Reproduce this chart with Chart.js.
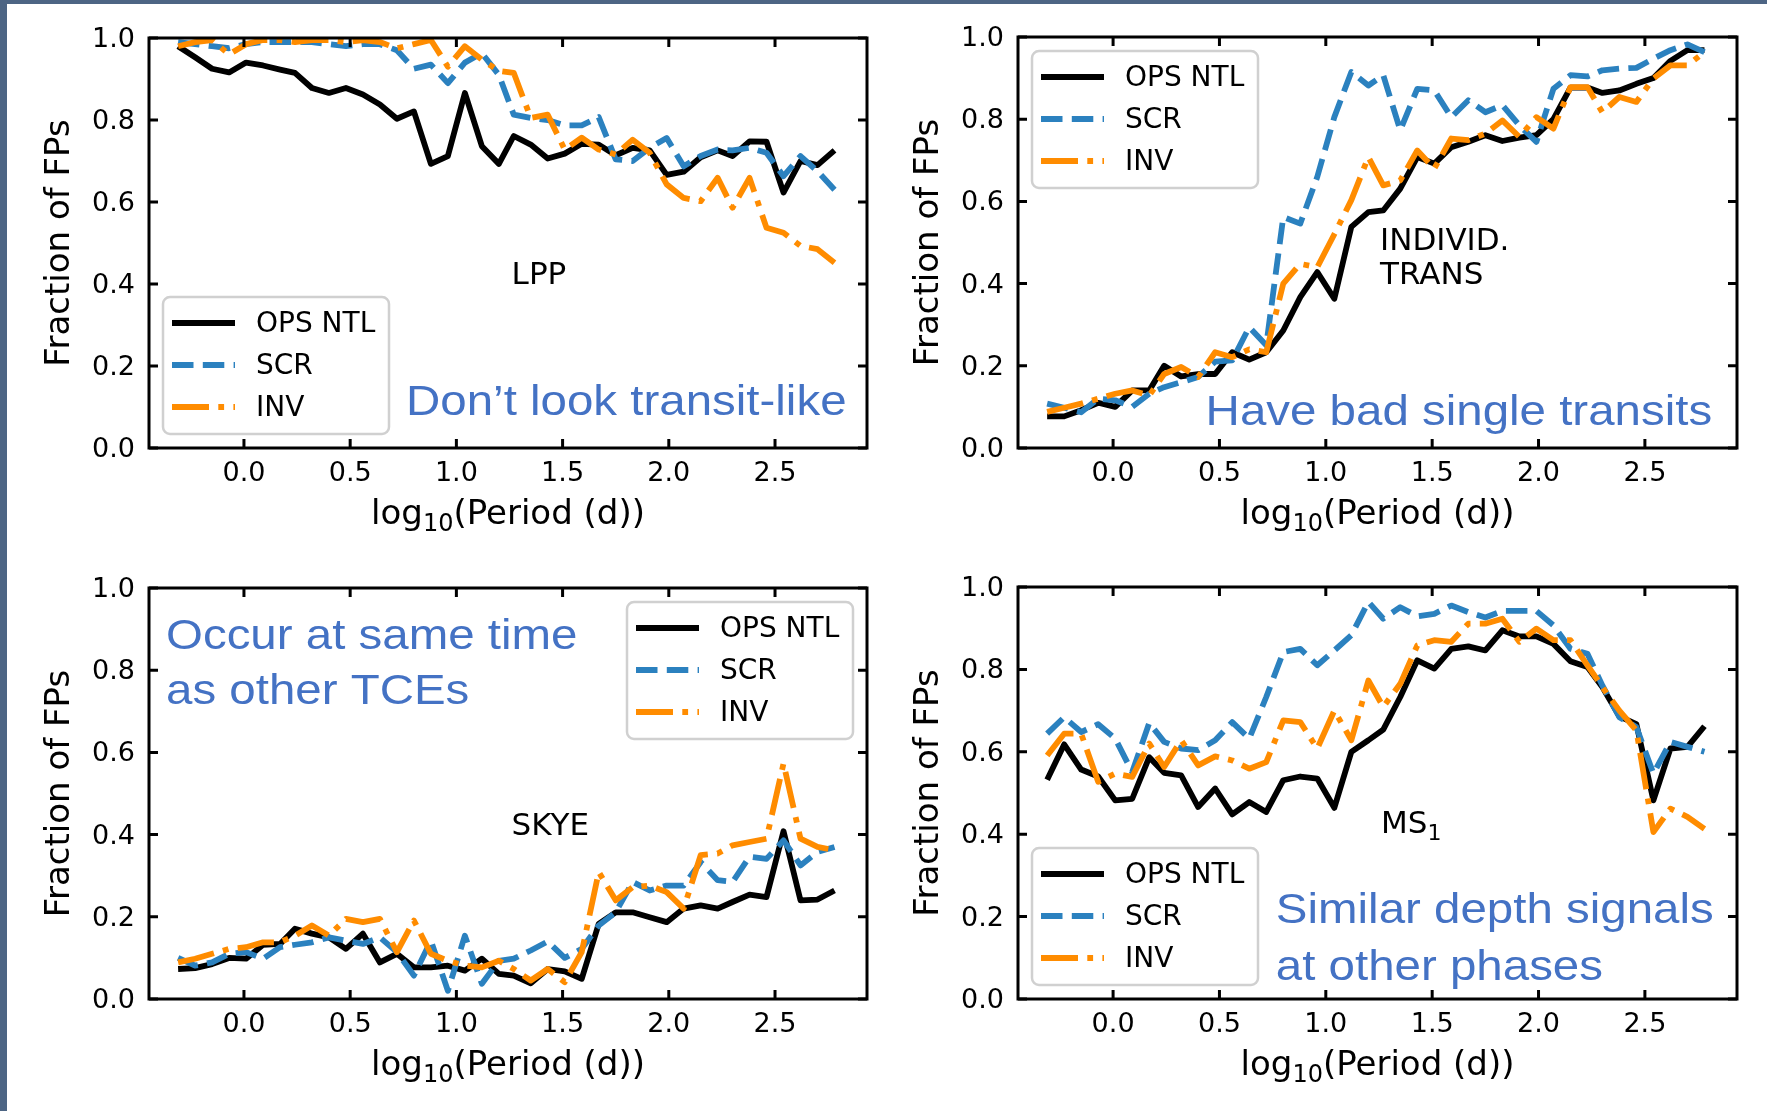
<!DOCTYPE html>
<html>
<head>
<meta charset="utf-8">
<script src="https://cdn.jsdelivr.net/npm/chart.js@4.4.0/dist/chart.umd.min.js"></script>
<style>
  html, body { margin: 0; padding: 0; background: #fff; }
  body { position: relative; width: 1767px; height: 1111px; overflow: hidden; }
  .panel { position: absolute; }
  .edge { position: absolute; background: #4d6584; z-index: 5; }
</style>
</head>
<body>
<div class="edge" style="left:0;top:0;width:7px;height:1111px"></div>
<div class="edge" style="left:0;top:0;width:1767px;height:4px"></div>
<div class="panel" style="left:0;top:0"><canvas id="lpp" width="884" height="555"></canvas></div>
<div class="panel" style="left:884px;top:0"><canvas id="trans" width="883" height="555"></canvas></div>
<div class="panel" style="left:0;top:555px"><canvas id="skye" width="884" height="556"></canvas></div>
<div class="panel" style="left:884px;top:555px"><canvas id="ms" width="883" height="556"></canvas></div>
<script>
// log10 period bin centres shared by every panel
const periodBins = [-0.31, -0.23, -0.15, -0.07, 0.01, 0.09, 0.17, 0.24, 0.32, 0.40,
  0.48, 0.56, 0.64, 0.72, 0.80, 0.88, 0.96, 1.04, 1.12, 1.20,
  1.27, 1.35, 1.43, 1.51, 1.59, 1.67, 1.75, 1.83, 1.91, 1.99,
  2.07, 2.15, 2.23, 2.30, 2.38, 2.46, 2.54, 2.62, 2.70, 2.78];

const xTicks = [0, 0.5, 1, 1.5, 2, 2.5];
const yTicks = [0, 0.2, 0.4, 0.6, 0.8, 1.0];
const seriesNames = ['OPS NTL', 'SCR', 'INV'];

// LPP
const lppOps = [0.98, 0.953, 0.925, 0.916, 0.94, 0.933, 0.923, 0.915, 0.878, 0.866,
  0.878, 0.862, 0.838, 0.803, 0.821, 0.693, 0.712, 0.866, 0.736, 0.693,
  0.761, 0.74, 0.706, 0.718, 0.742, 0.74, 0.714, 0.732, 0.726, 0.666,
  0.674, 0.709, 0.726, 0.712, 0.748, 0.747, 0.623, 0.70, 0.69, 0.726];
const lppScr = [0.99, 0.985, 0.98, 0.975, 0.985, 0.99, 0.99, 0.99, 0.99, 0.985,
  0.98, 0.985, 0.985, 0.97, 0.925, 0.935, 0.89, 0.94, 0.963, 0.91,
  0.813, 0.805, 0.80, 0.787, 0.787, 0.807, 0.704, 0.70, 0.732, 0.756,
  0.687, 0.712, 0.728, 0.726, 0.732, 0.72, 0.663, 0.712, 0.675, 0.63];
const lppInv = [0.98, 0.99, 0.995, 0.96, 0.985, 0.995, 0.995, 0.99, 0.995, 0.995,
  0.99, 0.995, 0.99, 0.975, 0.985, 0.995, 0.93, 0.98, 0.947, 0.92,
  0.915, 0.805, 0.813, 0.728, 0.757, 0.728, 0.716, 0.752, 0.72, 0.643,
  0.61, 0.602, 0.659, 0.586, 0.659, 0.537, 0.525, 0.493, 0.485, 0.452];

// individual transits
const transOps = [0.077, 0.077, 0.092, 0.11, 0.10, 0.14, 0.14, 0.20, 0.174, 0.18,
  0.18, 0.233, 0.215, 0.233, 0.286, 0.367, 0.428, 0.363, 0.538, 0.574,
  0.578, 0.631, 0.708, 0.692, 0.732, 0.745, 0.761, 0.747, 0.755, 0.761,
  0.80, 0.877, 0.877, 0.864, 0.87, 0.886, 0.90, 0.942, 0.968, 0.968];
const transScr = [0.108, 0.098, 0.087, 0.12, 0.116, 0.10, 0.132, 0.148, 0.16, 0.173,
  0.21, 0.213, 0.294, 0.25, 0.562, 0.546, 0.66, 0.805, 0.915, 0.882,
  0.907, 0.773, 0.874, 0.87, 0.805, 0.846, 0.817, 0.834, 0.785, 0.745,
  0.874, 0.907, 0.904, 0.919, 0.923, 0.925, 0.947, 0.968, 0.982, 0.963];
const transInv = [0.088, 0.098, 0.108, 0.12, 0.132, 0.14, 0.128, 0.18, 0.197, 0.173,
  0.233, 0.221, 0.24, 0.233, 0.40, 0.448, 0.44, 0.52, 0.603, 0.708,
  0.639, 0.651, 0.724, 0.68, 0.753, 0.749, 0.765, 0.797, 0.757, 0.805,
  0.777, 0.878, 0.878, 0.817, 0.854, 0.842, 0.899, 0.931, 0.931, 0.963];

// SKYE
const skyeOps = [0.073, 0.075, 0.085, 0.10, 0.098, 0.132, 0.134, 0.171, 0.159, 0.15,
  0.122, 0.159, 0.089, 0.11, 0.077, 0.077, 0.081, 0.069, 0.098, 0.061,
  0.057, 0.038, 0.073, 0.067, 0.049, 0.183, 0.211, 0.211, 0.199, 0.187,
  0.22, 0.228, 0.22, 0.236, 0.254, 0.248, 0.408, 0.24, 0.242, 0.264];
const skyeScr = [0.10, 0.081, 0.089, 0.11, 0.114, 0.098, 0.126, 0.132, 0.138, 0.15,
  0.142, 0.134, 0.15, 0.114, 0.057, 0.142, 0.02, 0.154, 0.037, 0.093,
  0.098, 0.118, 0.14, 0.10, 0.122, 0.179, 0.211, 0.285, 0.264, 0.276,
  0.276, 0.333, 0.289, 0.285, 0.346, 0.341, 0.386, 0.325, 0.358, 0.37];
const skyeInv = [0.089, 0.098, 0.11, 0.122, 0.126, 0.138, 0.138, 0.154, 0.179, 0.154,
  0.195, 0.187, 0.195, 0.114, 0.191, 0.11, 0.093, 0.081, 0.077, 0.093,
  0.073, 0.045, 0.073, 0.041, 0.114, 0.309, 0.24, 0.272, 0.276, 0.26,
  0.22, 0.35, 0.354, 0.374, 0.382, 0.39, 0.573, 0.39, 0.37, 0.362];

// MS1
const msOps = [0.532, 0.618, 0.557, 0.54, 0.482, 0.486, 0.587, 0.549, 0.543, 0.466,
  0.511, 0.448, 0.478, 0.454, 0.531, 0.54, 0.535, 0.464, 0.60, 0.628,
  0.654, 0.733, 0.822, 0.802, 0.85, 0.856, 0.846, 0.895, 0.88, 0.88,
  0.862, 0.82, 0.806, 0.757, 0.686, 0.667, 0.482, 0.608, 0.612, 0.662];
const msScr = [0.644, 0.684, 0.648, 0.667, 0.632, 0.551, 0.67, 0.624, 0.608, 0.604,
  0.628, 0.672, 0.632, 0.733, 0.842, 0.85, 0.81, 0.846, 0.883, 0.964,
  0.923, 0.951, 0.929, 0.935, 0.955, 0.939, 0.926, 0.942, 0.942, 0.942,
  0.907, 0.85, 0.838, 0.761, 0.684, 0.66, 0.547, 0.624, 0.612, 0.60];
const msInv = [0.591, 0.644, 0.644, 0.527, 0.547, 0.539, 0.62, 0.563, 0.628, 0.567,
  0.589, 0.579, 0.559, 0.575, 0.676, 0.672, 0.608, 0.70, 0.628, 0.773,
  0.709, 0.765, 0.858, 0.871, 0.867, 0.911, 0.911, 0.923, 0.867, 0.899,
  0.871, 0.871, 0.81, 0.757, 0.70, 0.652, 0.405, 0.462, 0.442, 0.413];

const LW = 5.8;
const lineColors = ['#000000', '#2b81bf', '#ff8c00'];
const lineDashes = [[], [21.5, 9.3], [37, 9.3, 5.8, 9.3]];
const mplFont = '"DejaVu Sans", sans-serif';
const noteBlue = '#4472c4';

// text pieces: [string, subscript?]
const xTitle = [['log', false], ['10', true], ['(Period (d))', false]];

const panels = [
  { id: 'lpp', series: [lppOps, lppScr, lppInv], pad: { left: 24, top: 38, right: 17, bottom: 12 },
    legend: 'lower left',
    notes: [{ parts: [['LPP', false]], x: 1.26, y: 0.40 }],
    callouts: [{ text: 'Don’t look transit-like', x: 0.763, y: 0.080 }] },
  { id: 'trans', series: [transOps, transScr, transInv], pad: { left: 9, top: 37, right: 30, bottom: 12 },
    legend: 'upper left',
    notes: [{ parts: [['INDIVID.', false]], x: 1.255, y: 0.482 }, { parts: [['TRANS', false]], x: 1.255, y: 0.40 }],
    callouts: [{ text: 'Have bad single transits', x: 0.435, y: 0.056 }] },
  { id: 'skye', series: [skyeOps, skyeScr, skyeInv], pad: { left: 24, top: 33, right: 17, bottom: 17 },
    legend: 'upper right',
    notes: [{ parts: [['SKYE', false]], x: 1.26, y: 0.40 }],
    callouts: [{ text: 'Occur at same time', x: -0.367, y: 0.852 }, { text: 'as other TCEs', x: -0.367, y: 0.718 }] },
  { id: 'ms', series: [msOps, msScr, msInv], pad: { left: 9, top: 32, right: 30, bottom: 17 },
    legend: 'lower left',
    notes: [{ parts: [['MS', false], ['1', true]], x: 1.26, y: 0.403 }],
    callouts: [{ text: 'Similar depth signals', x: 0.765, y: 0.184 }, { text: 'at other phases', x: 0.765, y: 0.046 }] }
];

// draws text with mathtext-like subscripts, returns nothing
function drawRich(ctx, parts, x, y, size, align) {
  const sub = Math.round(size * 0.7);
  const widths = parts.map(([s, isSub]) => {
    ctx.font = (isSub ? sub : size) + 'px ' + mplFont;
    return ctx.measureText(s).width;
  });
  const total = widths.reduce((a, b) => a + b, 0);
  let cx = align === 'center' ? x - total / 2 : x;
  parts.forEach(([s, isSub], i) => {
    ctx.font = (isSub ? sub : size) + 'px ' + mplFont;
    ctx.fillText(s, cx, isSub ? y + size * 0.22 : y);
    cx += widths[i];
  });
}

// frame, inward ticks, text notes and the legend box
function decorations(p) {
  return {
    id: 'decor_' + p.id,
    afterDraw(chart) {
      const { ctx, chartArea: a, scales: { x, y } } = chart;
      ctx.save();
      ctx.strokeStyle = '#000';
      ctx.lineWidth = 3;
      ctx.setLineDash([]);
      ctx.strokeRect(a.left, a.top, a.right - a.left, a.bottom - a.top);
      ctx.beginPath();
      xTicks.forEach(v => {
        const px = x.getPixelForValue(v);
        ctx.moveTo(px, a.bottom); ctx.lineTo(px, a.bottom - 9);
        ctx.moveTo(px, a.top); ctx.lineTo(px, a.top + 9);
      });
      yTicks.forEach(v => {
        const py = y.getPixelForValue(v);
        ctx.moveTo(a.left, py); ctx.lineTo(a.left + 9, py);
        ctx.moveTo(a.right, py); ctx.lineTo(a.right - 9, py);
      });
      ctx.stroke();

      ctx.fillStyle = '#000';
      ctx.textBaseline = 'alphabetic';
      ctx.textAlign = 'left';
      // x axis title with subscript
      drawRich(ctx, xTitle, (a.left + a.right) / 2, a.bottom + 76, 34, 'center');
      p.notes.forEach(n => drawRich(ctx, n.parts, x.getPixelForValue(n.x), y.getPixelForValue(n.y), 31, 'left'));

      ctx.fillStyle = noteBlue;
      ctx.font = '42px "Liberation Sans", Arial, sans-serif';
      p.callouts.forEach(n => {
        ctx.save();
        ctx.translate(x.getPixelForValue(n.x), y.getPixelForValue(n.y));
        ctx.scale(1.13, 1);
        ctx.fillText(n.text, 0, 0);
        ctx.restore();
      });

      // legend
      const w = 226, h = 137, inset = 14;
      const bx = p.legend.includes('right') ? a.right - inset - w : a.left + inset;
      const by = p.legend.includes('lower') ? a.bottom - inset - h : a.top + inset;
      ctx.beginPath();
      ctx.roundRect(bx, by, w, h, 7);
      ctx.fillStyle = 'rgba(255,255,255,0.85)';
      ctx.fill();
      ctx.strokeStyle = '#d0d0d0';
      ctx.lineWidth = 2.5;
      ctx.stroke();
      ctx.font = '28px ' + mplFont;
      ctx.textBaseline = 'middle';
      chart.data.datasets.forEach((ds, i) => {
        const ry = by + 26 + i * 42;
        ctx.beginPath();
        ctx.strokeStyle = ds.borderColor;
        ctx.lineWidth = LW;
        ctx.lineCap = 'butt';
        ctx.setLineDash(ds.borderDash);
        ctx.moveTo(bx + 9, ry);
        ctx.lineTo(bx + 72, ry);
        ctx.stroke();
        ctx.setLineDash([]);
        ctx.fillStyle = '#000';
        ctx.fillText(ds.label, bx + 93, ry + 2);
      });
      ctx.restore();
    }
  };
}

function makeChart(p) {
  const datasets = p.series.map((vals, i) => ({
    label: seriesNames[i],
    data: periodBins.map((x, j) => ({ x: x, y: vals[j] })),
    borderColor: lineColors[i],
    borderDash: lineDashes[i],
    borderWidth: LW,
    order: 3 - i
  }));
  return new Chart(document.getElementById(p.id), {
    type: 'line',
    data: { datasets },
    options: {
      responsive: false,
      animation: false,
      layout: { padding: p.pad },
      elements: {
        point: { radius: 0 },
        line: { tension: 0, fill: false, borderJoinStyle: 'round', borderCapStyle: 'butt' }
      },
      plugins: { legend: { display: false }, tooltip: { enabled: false } },
      scales: {
        x: {
          type: 'linear',
          min: -0.447,
          max: 2.933,
          afterBuildTicks: s => { s.ticks = xTicks.map(v => ({ value: v })); },
          afterFit: s => { s.height = 95; },
          grid: { display: false, drawTicks: false },
          border: { display: false },
          ticks: { padding: 10, color: '#000', font: { family: mplFont, size: 27 }, callback: v => v.toFixed(1) },
          title: { display: false }
        },
        y: {
          min: 0,
          max: 1,
          afterBuildTicks: s => { s.ticks = yTicks.map(v => ({ value: v })); },
          afterFit: s => { s.width = 125; },
          grid: { display: false, drawTicks: false },
          border: { display: false },
          ticks: { padding: 14, labelOffset: 2, color: '#000', font: { family: mplFont, size: 27 }, callback: v => v.toFixed(1) },
          title: { display: true, text: 'Fraction of FPs', color: '#000',
                   font: { family: mplFont, size: 34 }, padding: { top: 16, bottom: 0 } }
        }
      }
    },
    plugins: [decorations(p)]
  });
}

panels.forEach(makeChart);
</script>
</body>
</html>
